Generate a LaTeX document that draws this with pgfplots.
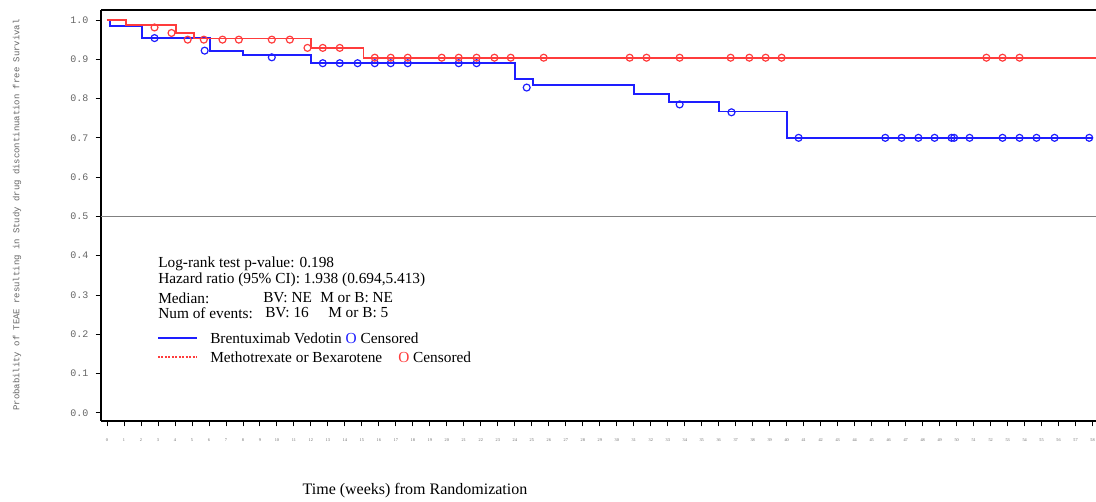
\documentclass[border=0pt]{standalone}
\usepackage{pgfplots}
\pgfplotsset{compat=1.18}
\usepackage{fontspec}
\setmainfont{Liberation Serif}
\newfontfamily\monofont{Liberation Mono}
\definecolor{kmblue}{HTML}{1E1EFF}
\definecolor{kmred}{HTML}{FF3C3C}
\definecolor{tickgray}{HTML}{646464}
\begin{document}
\begin{tikzpicture}
\useasboundingbox (0,0) rectangle (822pt,376.5pt);
\begin{axis}[
  at={(75.75pt,60.75pt)}, anchor=south west,
  scale only axis, width=746.25pt, height=308.25pt,
  xmin=-0.35, xmax=58.2, ymin=-0.021, ymax=1.0255,
  axis x line*=box, axis y line*=left,
  axis line style={line width=2.2pt, black},
  xtick pos=left, ytick pos=left,
  tick align=outside,
  major tick length=4pt,
  tick style={black, line width=0.6pt},
  xtick={0,1,...,58},
  ytick={0,0.1,0.2,0.3,0.4,0.5,0.6,0.7,0.8,0.9,1.0},
  yticklabels={0.0,0.1,0.2,0.3,0.4,0.5,0.6,0.7,0.8,0.9,1.0},
  /pgf/number format/assume math mode=true,
  yticklabel style={font=\monofont\fontsize{7.5}{8}\selectfont, text=tickgray, xshift=-2pt},
  xticklabel style={font=\fontsize{3.2}{3.5}\selectfont, text=tickgray, yshift=-6pt},
  clip=false,
]
\addplot[draw=gray, line width=0.6pt] coordinates {(-0.35,0.5) (58.2,0.5)};
% Brentuximab Vedotin (blue) step curve
\addplot[draw=kmblue, line width=1.4pt] coordinates {
(0,1.0) (0.16,1.0) (0.16,0.985) (2.04,0.985) (2.04,0.955) (6.06,0.955) (6.06,0.922)
(8.0,0.922) (8.0,0.910) (12.0,0.910) (12.0,0.891) (24.0,0.891) (24.0,0.849)
(25.08,0.849) (25.08,0.835) (31.0,0.835) (31.0,0.812) (33.08,0.812) (33.08,0.791)
(36.0,0.791) (36.0,0.767) (40.0,0.767) (40.0,0.700) (58.0,0.700)};
% Methotrexate or Bexarotene (red) step curve
\addplot[draw=kmred, line width=1.4pt] coordinates {
(0,1.0) (1.1,1.0) (1.1,0.987) (4.05,0.987) (4.05,0.968) (5.1,0.968) (5.1,0.953)
(12.0,0.953) (12.0,0.929) (15.1,0.929) (15.1,0.904) (58.2,0.904)};
% censored blue
\addplot[only marks, mark=o, mark size=2.6pt, draw=kmblue, mark options={line width=0.9pt}] coordinates {
(2.8,0.954) (5.75,0.922) (9.7,0.905)
(12.7,0.890) (13.7,0.890) (14.75,0.890) (15.76,0.890) (16.7,0.890) (17.7,0.890) (20.7,0.890) (21.75,0.890)
(24.7,0.828) (33.7,0.785) (36.75,0.765)
(40.7,0.700) (45.8,0.700) (46.76,0.700) (47.75,0.700) (48.7,0.700) (49.7,0.700) (49.85,0.700)
(50.76,0.700) (52.7,0.700) (53.7,0.700) (54.7,0.700) (55.76,0.700) (57.8,0.700)};
% censored red
\addplot[only marks, mark=o, mark size=2.6pt, draw=kmred, mark options={line width=0.9pt}] coordinates {
(2.8,0.981) (3.8,0.967) (4.75,0.950) (5.7,0.950) (6.8,0.950) (7.76,0.950) (9.7,0.950) (10.76,0.950)
(11.8,0.929) (12.7,0.929) (13.7,0.929)
(15.76,0.904) (16.7,0.904) (17.7,0.904) (19.7,0.904) (20.7,0.904) (21.75,0.904) (22.8,0.904)
(23.76,0.904) (25.7,0.904) (30.76,0.904) (31.75,0.904) (33.7,0.904) (36.7,0.904) (37.8,0.904)
(38.76,0.904) (39.7,0.904) (51.75,0.904) (52.7,0.904) (53.7,0.904)};
\end{axis}
% annotation block
\begin{scope}[every node/.style={anchor=west, inner sep=0pt, font=\fontsize{11.5}{13}\selectfont}]
\node at (118.5pt,178.5pt) {Log-rank test p-value: 0.198};
\node at (118.5pt,166.5pt) {Hazard ratio (95\% CI): 1.938 (0.694,5.413)};
\node at (118.5pt,153pt) {Median:};
\node at (197.25pt,153pt) {BV: NE};
\node at (240pt,153pt) {M or B: NE};
\node at (118.5pt,141.75pt) {Num of events:};
\node at (198.75pt,141.75pt) {BV: 16};
\node at (246pt,141.75pt) {M or B: 5};
\node at (157.5pt,123pt) {Brentuximab Vedotin \textcolor{kmblue}{O} Censored};
\node at (157.5pt,108.75pt) {Methotrexate or Bexarotene};
\node at (298.5pt,108.75pt) {\textcolor{kmred}{O} Censored};
\end{scope}
\draw[draw=kmblue, line width=1pt] (118.5pt,123pt) -- (147.75pt,123pt);
\draw[draw=kmred, line width=1pt, dash pattern=on 1.5pt off 1.1pt] (118.5pt,108.75pt) -- (147.75pt,108.75pt);
\node[rotate=90, font=\monofont\fontsize{6.7}{7}\selectfont, text=tickgray] at (12.75pt,215.25pt)
  {Probability of TEAE resulting in Study drug discontinuation free Survival};
\node[font=\fontsize{12}{14}\selectfont] at (311.25pt,8.25pt) {Time (weeks) from Randomization};
\end{tikzpicture}
\end{document}
